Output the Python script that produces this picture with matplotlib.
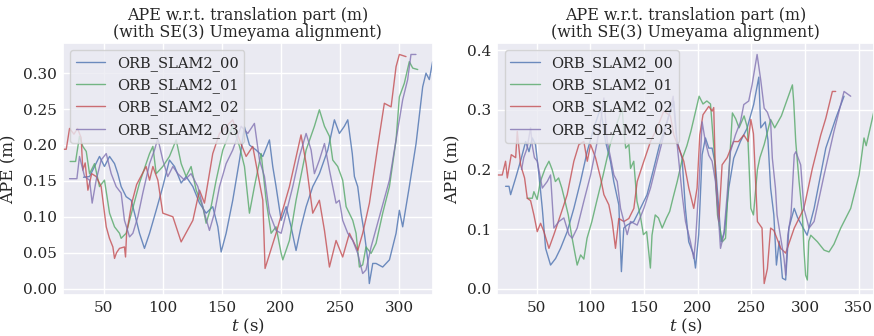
import matplotlib
matplotlib.use("Agg")
import matplotlib.pyplot as plt
import seaborn as sns

# values (t in s, APE in m)
names = ["ORB_SLAM2_00", "ORB_SLAM2_01", "ORB_SLAM2_02", "ORB_SLAM2_03"]
colors = ["#4C72B0", "#55A868", "#C44E52", "#8172B2"]

# ---- left run ----
l_t00 = [33.1, 38.2, 42.4, 46.6, 50.8, 55.1, 59.3, 62.1, 64.9, 69.1, 73.4, 76.2, 80.4, 84.6, 88.9, 94.5,
         100.1, 105.7, 110, 115.6, 119.8, 125.5, 131.1, 136.7, 142.3, 146.6, 149.4, 153.6, 159.2, 164.9,
         169.1, 173.3, 178.9, 184.6, 190.2, 193, 195.8, 200.1, 204.3, 208.5, 212.7, 216.9, 221.2, 226.8,
         232.4, 239.5, 245.1, 249.3, 253.5, 256.4, 260.2, 262, 264.8, 267.6, 270.4, 273.3, 274.6, 277.5,
         280.3, 285.9, 291.6, 297.2, 300, 302.8, 308.4, 314.1, 319.7, 322.5, 325.3, 328.1]
l_e00 = [0.155, 0.156, 0.17, 0.184, 0.17, 0.184, 0.174, 0.16, 0.142, 0.128, 0.123, 0.105, 0.077, 0.056, 0.077, 0.109,
         0.142, 0.179, 0.17, 0.147, 0.156, 0.142, 0.119, 0.105, 0.114, 0.086, 0.051, 0.077, 0.123, 0.179,
         0.225, 0.2, 0.193, 0.184, 0.207, 0.17, 0.142, 0.095, 0.114, 0.086, 0.053, 0.086, 0.114, 0.142,
         0.16, 0.193, 0.235, 0.216, 0.226, 0.235, 0.188, 0.156, 0.142, 0.105, 0.077, 0.04, 0.007, 0.035,
         0.035, 0.03, 0.04, 0.077, 0.109, 0.086, 0.142, 0.202, 0.281, 0.3, 0.291, 0.316]

l_t01 = [21.8, 26.4, 29.7, 32.5, 35.4, 38.2, 42.4, 46.6, 50.8, 55.1, 59.3, 63.5, 64.9, 69.1, 72, 80.4, 88.9,
         91.7, 94.5, 100.1, 105.7, 111.4, 115.6, 119.8, 124, 128.3, 133.9, 136.7, 140.9, 145.2, 150.8, 156.4,
         159.2, 164.9, 169.1, 173.3, 177.5, 183.2, 187.4, 191.6, 195.8, 200.1, 201.5, 207.1, 212.7, 221.2,
         228.2, 232.4, 236.7, 240.9, 243.7, 247.9, 252.1, 255, 260.6, 263.4, 266.2, 269, 271.8, 276.1, 280.3,
         285.9, 291.6, 297.2, 300, 304.2, 308.4, 311.3, 315.5]
l_e01 = [0.177, 0.177, 0.212, 0.198, 0.191, 0.16, 0.174, 0.142, 0.151, 0.105, 0.086, 0.077, 0.07, 0.077, 0.095, 0.147, 0.188,
         0.198, 0.16, 0.17, 0.184, 0.207, 0.174, 0.156, 0.17, 0.137, 0.114, 0.091, 0.114, 0.151, 0.193, 0.216,
         0.226, 0.198, 0.17, 0.105, 0.142, 0.188, 0.123, 0.077, 0.086, 0.049, 0.04, 0.067, 0.123, 0.193,
         0.226, 0.249, 0.226, 0.212, 0.179, 0.17, 0.151, 0.114, 0.095, 0.077, 0.03, 0.033, 0.058, 0.049, 0.063,
         0.105, 0.142, 0.207, 0.267, 0.286, 0.316, 0.307, 0.305]

l_t02 = [15.7, 18.5, 21.3, 25, 28, 31.1, 32.5, 34.5, 36.8, 40, 43.8, 48, 52.3, 55, 57.9, 59.3, 61, 63.5,
         67.7, 68.6, 69.5, 74, 78, 86, 88.9, 91.7, 95.9, 100.1, 108.6, 115.6, 125.5, 131.1, 135.3, 142.3,
         148, 159.2, 164.9, 170.5, 176.1, 184.6, 186.5, 195.8, 207.1, 216.9, 221.2, 226.8, 232.4, 236.7,
         240.9, 246.5, 252.1, 257.8, 264.8, 269, 274.7, 281.7, 287.3, 293, 297.2, 300, 305.6]
l_e02 = [0.194, 0.194, 0.223, 0.215, 0.223, 0.21, 0.165, 0.175, 0.137, 0.16, 0.156, 0.142, 0.086, 0.07, 0.058, 0.042, 0.05, 0.056,
         0.058, 0.044, 0.077, 0.12, 0.145, 0.17, 0.151, 0.17, 0.151, 0.105, 0.1, 0.065, 0.095, 0.137, 0.119, 0.188,
         0.216, 0.235, 0.207, 0.184, 0.198, 0.123, 0.028, 0.077, 0.142, 0.214, 0.174, 0.105, 0.123, 0.081,
         0.03, 0.067, 0.044, 0.077, 0.053, 0.077, 0.119, 0.198, 0.258, 0.253, 0.309, 0.326, 0.323]

l_t03 = [21.3, 27.5, 29.7, 34, 38.2, 40.4, 43.8, 48, 52.3, 56.5, 60.7, 64.9, 67.7, 72, 74.8, 79, 83.2, 88.9,
         93.1, 95.9, 100.1, 104.3, 108.6, 112.8, 118.4, 124, 129.7, 135.3, 139.5, 143.7, 148, 153.6, 159.2,
         166.3, 171.9, 177.5, 181.8, 186, 190.2, 195.8, 200.1, 204.3, 209.9, 215.5, 221.2, 225.4, 228.2,
         232.4, 236.7, 240.9, 243.7, 246.5, 249.3, 252.1, 256.4, 260.6, 264.8, 269, 271.8, 276.1, 283.1,
         291.6, 297.2, 302.8, 307, 309.8, 314]
l_e03 = [0.153, 0.153, 0.184, 0.156, 0.151, 0.119, 0.151, 0.179, 0.188, 0.16, 0.142, 0.133, 0.095, 0.072, 0.077, 0.1, 0.133, 0.174,
         0.193, 0.209, 0.179, 0.156, 0.17, 0.16, 0.151, 0.16, 0.142, 0.105, 0.081, 0.105, 0.142, 0.174, 0.193,
         0.226, 0.216, 0.23, 0.179, 0.156, 0.105, 0.081, 0.077, 0.105, 0.142, 0.184, 0.216, 0.193, 0.16,
         0.179, 0.202, 0.165, 0.142, 0.119, 0.123, 0.095, 0.077, 0.067, 0.049, 0.021, 0.026, 0.058, 0.1,
         0.151, 0.207, 0.263, 0.291, 0.326, 0.326]

# ---- right run ----
r_t00 = [21.1, 24.3, 25.8, 30.5, 35, 39.8, 42.9, 46, 49, 52.2, 55.3, 58.4, 63, 67.7, 72.3, 78.5, 84.7, 90.9,
         97.1, 103.3, 109.6, 114.2, 118.8, 121.9, 126.6, 129, 131.2, 134.3, 140.5, 146.7, 152.9, 159.1, 165.3,
         171.5, 177.8, 180.9, 185.5, 188.6, 191.7, 196.4, 198, 201, 204.2, 207.3, 210.4, 213.5, 216.6, 219.7,
         221.9, 225, 229, 233.6, 239.8, 246, 252.2, 257, 258.8, 263, 265.5, 268, 271, 273.4, 276, 279, 282,
         285, 290, 293, 302, 308.5, 319.4, 328.7, 336.4]
r_e00 = [0.172, 0.172, 0.158, 0.186, 0.214, 0.247, 0.23, 0.253, 0.242, 0.191, 0.135, 0.068, 0.04, 0.051, 0.068, 0.096, 0.135, 0.18,
         0.23, 0.27, 0.303, 0.247, 0.214, 0.18, 0.141, 0.029, 0.102, 0.107, 0.113, 0.135, 0.158, 0.202, 0.247,
         0.28, 0.314, 0.247, 0.219, 0.135, 0.079, 0.057, 0.035, 0.091, 0.225, 0.253, 0.236, 0.236, 0.208, 0.135,
         0.079, 0.096, 0.169, 0.219, 0.247, 0.269, 0.309, 0.355, 0.27, 0.28, 0.25, 0.169, 0.124, 0.04, 0.08, 0.018, 0.015,
         0.102, 0.135, 0.12, 0.09, 0.135, 0.236, 0.286, 0.323]

r_t01 = [41.3, 46, 47.5, 50.5, 53.5, 58, 61.5, 64.5, 67.5, 70.5, 73.5, 76.5, 79.5, 82.5, 86, 87.8, 91, 94, 97,
         101.5, 106, 112, 118.5, 124.5, 129.7, 131, 133, 136, 137.5, 140.5, 143.5, 146.5, 149.5, 152.5, 156,
         157.5, 160.5, 163.5, 167, 171, 174, 177, 181, 186, 190, 193.7, 201.4, 205, 208.6, 212, 215.4, 218.5,
         223, 226, 229.4, 232.4, 235.5, 238.6, 243.3, 246.4, 249.6, 252, 255.7, 258, 262, 268, 271.8, 278,
         288.3, 289.5, 291.4, 294.5, 297.6, 299, 300.6, 302.2, 303.5, 305.4, 311.6, 317.8, 322.4, 327, 333.3,
         342.6, 350.4, 355, 357, 364.3]
r_e01 = [0.152, 0.152, 0.163, 0.15, 0.18, 0.202, 0.214, 0.2, 0.18, 0.186, 0.169, 0.147, 0.124, 0.091, 0.057, 0.04, 0.057, 0.05, 0.085,
         0.113, 0.147, 0.191, 0.242, 0.275, 0.303, 0.27, 0.236, 0.242, 0.202, 0.214, 0.147, 0.124, 0.091, 0.096, 0.035,
         0.09, 0.124, 0.119, 0.102, 0.119, 0.13, 0.152, 0.18, 0.22, 0.24, 0.264, 0.323, 0.31, 0.315, 0.31, 0.23, 0.124,
         0.079, 0.085, 0.202, 0.295, 0.285, 0.27, 0.29, 0.27, 0.135, 0.124, 0.2, 0.22, 0.242, 0.284, 0.27, 0.29,
         0.342, 0.314, 0.247, 0.18, 0.124, 0.068, 0.023, 0.015, 0.08, 0.09, 0.079, 0.065, 0.062, 0.075, 0.102,
         0.135, 0.191, 0.253, 0.24, 0.298]

r_t02 = [13.4, 18, 21.1, 22.7, 26.4, 30.5, 32, 35.1, 38.8, 41.3, 44.4, 47.5, 50.6, 53.7, 56.8, 61.5, 66.1,
         72.3, 78.5, 84.7, 89.4, 94, 97.2, 100.3, 104.9, 109.6, 112.7, 117.3, 120.4, 123.5, 126.6, 131.3, 135.9,
         140.6, 143.7, 149.9, 156.1, 162.3, 168.5, 174.7, 177.8, 182.5, 187.1, 191.8, 196.4, 199.5, 202, 205,
         210.4, 213.5, 215, 216.6, 219.7, 222.8, 227.5, 233.5, 238, 243, 247, 249.6, 252, 255.7, 260, 262, 265,
         268, 271, 277.5, 282, 290, 299, 306.9, 314.7, 319.4, 325.5, 328.6]
r_e02 = [0.191, 0.191, 0.214, 0.186, 0.225, 0.22, 0.264, 0.208, 0.186, 0.152, 0.148, 0.124, 0.096, 0.11, 0.096, 0.068, 0.091,
         0.124, 0.158, 0.214, 0.242, 0.247, 0.214, 0.242, 0.22, 0.186, 0.158, 0.141, 0.113, 0.068, 0.118, 0.113, 0.118,
         0.135, 0.18, 0.214, 0.247, 0.27, 0.298, 0.29, 0.258, 0.236, 0.214, 0.169, 0.135, 0.169, 0.258, 0.292,
         0.306, 0.298, 0.304, 0.191, 0.113, 0.208, 0.22, 0.247, 0.247, 0.258, 0.247, 0.284, 0.26, 0.113, 0.102, 0.009, 0.034,
         0.102, 0.098, 0.068, 0.06, 0.102, 0.135, 0.202, 0.258, 0.286, 0.331, 0.331]

r_t03 = [36, 38, 41, 44.4, 46, 48, 50.6, 55.3, 59.9, 63, 66.1, 70.8, 75.4, 80.1, 83.2, 87.8, 94, 100.3, 106.5,
         111.1, 112.7, 115.8, 118.9, 122, 125.1, 128.2, 131.3, 134.4, 137.5, 143.7, 149.9, 156.1, 162.3, 168.5,
         174.7, 177.2, 179.4, 182.5, 185.6, 188.7, 193.3, 196.4, 198, 201.1, 204.2, 207.3, 210.4, 213.5, 216.6,
         219.7, 221.3, 224.4, 227.5, 230.6, 235.2, 239.9, 243, 247.6, 250.7, 255.4, 258.8, 262, 265, 268, 269.6,
         272.5, 274, 277, 280.5, 282, 284, 287, 290, 291.5, 296, 299, 303.8, 308.5, 317.8, 327, 336.4, 342.6]
r_e03 = [0.2, 0.22, 0.235, 0.27, 0.24, 0.22, 0.214, 0.169, 0.18, 0.191, 0.102, 0.113, 0.119, 0.091, 0.085, 0.102, 0.147, 0.191, 0.247,
         0.298, 0.32, 0.247, 0.22, 0.191, 0.18, 0.135, 0.113, 0.091, 0.113, 0.107, 0.135, 0.169, 0.214, 0.258,
         0.303, 0.323, 0.27, 0.214, 0.158, 0.113, 0.079, 0.051, 0.079, 0.169, 0.28, 0.246, 0.224, 0.214, 0.18,
         0.113, 0.068, 0.091, 0.158, 0.23, 0.258, 0.28, 0.309, 0.315, 0.342, 0.393, 0.35, 0.303, 0.296, 0.28, 0.219,
         0.169, 0.124, 0.09, 0.051, 0.023, 0.09, 0.124, 0.225, 0.23, 0.208, 0.135, 0.102, 0.113, 0.191, 0.264, 0.331, 0.323]

left_runs = [(l_t00, l_e00), (l_t01, l_e01), (l_t02, l_e02), (l_t03, l_e03)]
right_runs = [(r_t00, r_e00), (r_t01, r_e01), (r_t02, r_e02), (r_t03, r_e03)]

sns.set_theme(style="darkgrid")
plt.rcParams["font.family"] = ["DejaVu Serif"]
plt.rcParams["mathtext.fontset"] = "dejavuserif"

fig = plt.figure(figsize=(8.74, 3.36), dpi=100)
ax1 = fig.add_axes([0.072, 0.122, 0.423, 0.750])
ax2 = fig.add_axes([0.569, 0.122, 0.431, 0.750])

for ax, runs in [(ax1, left_runs), (ax2, right_runs)]:
    for (t, e), name, c in zip(runs, names, colors):
        ax.plot(t, e, color=c, lw=1.0, alpha=0.8, label=name)
    ax.margins(x=0)
    ax.set_title("APE w.r.t. translation part (m)\n(with SE(3) Umeyama alignment)",
                 fontsize=11.4, linespacing=1.0, pad=4)
    ax.set_xlabel("$t$ (s)", fontsize=12, labelpad=1)
    ax.set_ylabel("APE (m)", fontsize=12, labelpad=4)
    ax.tick_params(labelsize=11, length=0, pad=4.5)
    ax.legend(loc="upper left", fontsize=10.5, frameon=True)

fig.savefig("out.png", dpi=100)
